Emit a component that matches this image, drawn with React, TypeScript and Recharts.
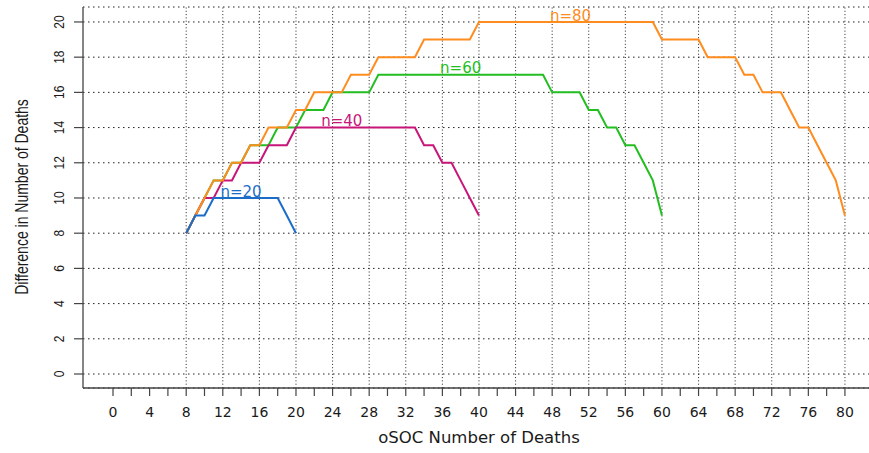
import React from 'react'
import { LineChart, Line, XAxis, YAxis, CartesianGrid, ReferenceLine, ReferenceDot } from 'recharts'

// oSOC deaths start at 8 for every curve
const firstDeaths = 8

// difference in number of deaths, one value per oSOC death count from 8 upward
const diffN20 = [8, 9, 9, 10, 10, 10, 10, 10, 10, 10, 10, 9, 8]
const diffN40 = [
  8, 9, 10, 10, 11, 11, 12, 12, 12, 13, 13, 13, 14,
  14, 14, 14, 14, 14, 14, 14, 14, 14, 14, 14, 14, 14,
  13, 13, 12, 12, 11, 10, 9,
]
const diffN60 = [
  8, 9, 10, 11, 11, 12, 12, 13, 13,
  13, 14, 14, 14, 15, 15, 15, 16, 16, 16, 16, 16,
  17, 17, 17, 17, 17, 17, 17, 17, 17, 17, 17, 17, 17, 17, 17, 17, 17, 17, 17,
  16, 16, 16, 16, 15, 15, 14, 14, 13, 13, 12, 11, 9,
]
const diffN80 = [
  8, 9, 10, 11, 11, 12, 12, 13, 13, 14, 14, 14, 15,
  15, 16, 16, 16, 16, 17, 17, 17, 18, 18, 18, 18, 18, 19, 19, 19, 19, 19, 19, 20,
  20, 20, 20, 20, 20, 20, 20, 20, 20, 20, 20, 20, 20, 20, 20, 20, 20, 20, 20,
  19, 19, 19, 19, 19, 18, 18, 18, 18, 17, 17, 16, 16, 16, 15, 14, 14, 13, 12, 11, 9,
]

const xTicks = [
  0, 2, 4, 6, 8, 10, 12, 14, 16, 18, 20, 22, 24, 26, 28, 30, 32, 34, 36, 38, 40,
  42, 44, 46, 48, 50, 52, 54, 56, 58, 60, 62, 64, 66, 68, 70, 72, 74, 76, 78, 80,
]
const xGrid = [8, 12, 16, 20, 24, 28, 32, 36, 40, 44, 48, 52, 56, 60, 64, 68, 72, 76, 80]
const yTicks = [0, 2, 4, 6, 8, 10, 12, 14, 16, 18, 20]

const seriesNames = ['n=40', 'n=60', 'n=80', 'n=20']
// where each n= label sits, in data units
const labelDeaths = [25, 38, 50, 14]
const labelDiff = [14.4, 17.4, 20.35, 10.35]

const toPoints = (vals: number[]) => vals.map((v, i) => ({ deaths: firstDeaths + i, diff: v }))

const series = [
  { name: seriesNames[0], color: '#c8157a', data: toPoints(diffN40) },
  { name: seriesNames[1], color: '#22be22', data: toPoints(diffN60) },
  { name: seriesNames[2], color: '#ff8c1e', data: toPoints(diffN80) },
  { name: seriesNames[3], color: '#1c6dc9', data: toPoints(diffN20) },
]
// green first so the others sit on top of it
const drawOrder = [1, 0, 2, 3]

const sans = '"DejaVu Sans", sans-serif'
const rotSans = '"Liberation Sans", Arial, sans-serif'
const ink = '#1a1a1a'
const axisGray = '#444'
const gridInk = '#222'

const renderXTick = ({ x, y, payload }: any) => {
  if (payload.value % 4 !== 0) return <g />
  return (
    <text x={x} y={y} dy={19} textAnchor="middle" fontFamily={sans} fontSize={14} fill={ink}>
      {payload.value}
    </text>
  )
}

const renderYTick = ({ x, y, payload }: any) => (
  <text
    transform={`translate(${x - 8.5},${y}) scale(1.28,1) rotate(-90)`}
    textAnchor="middle"
    fontFamily={rotSans}
    fontSize={12}
    fill={ink}
  >
    {payload.value}
  </text>
)

const renderXTitle = (props: any) => {
  const vb = props.viewBox || { x: 83, y: 388, width: 786, height: 65 }
  return (
    <text x={vb.x + vb.width / 2 + 3} y={443} textAnchor="middle" fontFamily={sans} fontSize={16.5} fill={ink}>
      oSOC Number of Deaths
    </text>
  )
}

const renderYTitle = () => (
  <text
    transform="translate(28,197) scale(1.28,1) rotate(-90)"
    textAnchor="middle"
    fontFamily={rotSans}
    fontSize={14}
    fill={ink}
  >
    Difference in Number of Deaths
  </text>
)

export default function App() {
  return (
    <div style={{ position: 'absolute', left: 0, top: 0, width: 869, height: 453, background: '#fff' }}>
      <LineChart width={869} height={453} margin={{ top: 7, right: 0, bottom: 0, left: 0 }}>
        <CartesianGrid vertical={false} stroke={gridInk} strokeDasharray="1.5 3.5" />
        {xGrid.map((g) => (
          <ReferenceLine key={g} x={g} stroke={gridInk} strokeDasharray="1 2.3" />
        ))}
        <XAxis
          type="number"
          dataKey="deaths"
          domain={[-3.279, 82.63]}
          allowDataOverflow
          ticks={xTicks}
          interval={0}
          height={65}
          tickSize={8}
          axisLine={{ stroke: axisGray, strokeWidth: 1.3 }}
          tickLine={{ stroke: axisGray, strokeWidth: 1.2 }}
          tick={renderXTick}
          label={renderXTitle}
        />
        <YAxis
          type="number"
          dataKey="diff"
          domain={[-0.795, 20.85]}
          allowDataOverflow
          ticks={yTicks}
          interval={0}
          width={83}
          tickSize={9}
          axisLine={{ stroke: axisGray, strokeWidth: 1.3 }}
          tickLine={{ stroke: axisGray, strokeWidth: 1.2 }}
          tick={renderYTick}
          label={renderYTitle}
        />
        {drawOrder.map((i) => (
          <Line
            key={series[i].name}
            data={series[i].data}
            dataKey="diff"
            type="linear"
            stroke={series[i].color}
            strokeWidth={2}
            dot={false}
            activeDot={false}
            isAnimationActive={false}
          />
        ))}
        {series.map((s, i) => (
          <ReferenceDot
            key={'lab' + s.name}
            x={labelDeaths[i]}
            y={labelDiff[i]}
            r={0}
            fill="none"
            stroke="none"
            label={{ value: s.name, position: 'center', fill: s.color, fontSize: 15, fontFamily: sans }}
          />
        ))}
      </LineChart>
    </div>
  )
}
